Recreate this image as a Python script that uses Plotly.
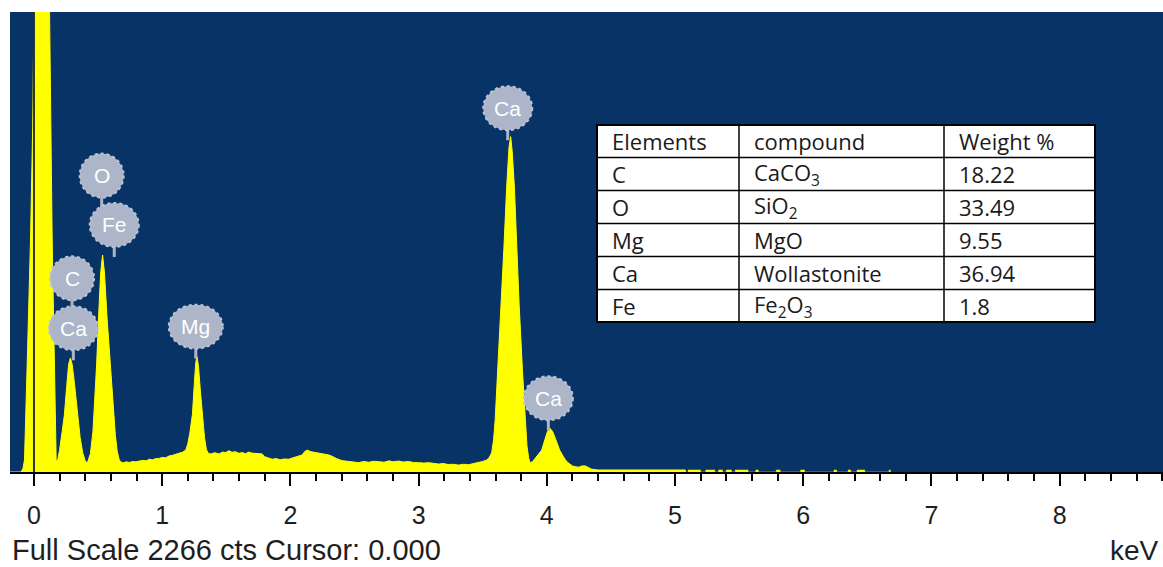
import plotly.graph_objects as go

# ---------------- data ----------------
energy_kev = [
    -0.19, -0.10, -0.085, -0.074, -0.05, -0.027, -0.01, 0.012, 0.03, 0.066, 0.10, 0.121, 0.142, 0.158, 0.173, 0.183,
    0.20, 0.22, 0.237, 0.255, 0.27, 0.284, 0.298, 0.315, 0.341, 0.36, 0.38, 0.40, 0.416,
    0.44, 0.46, 0.475, 0.489, 0.505, 0.52, 0.535, 0.55, 0.57, 0.595, 0.615, 0.635, 0.65, 0.665, 0.68,
    0.70, 0.72, 0.745, 0.77, 0.795, 0.822, 0.85, 0.875, 0.899, 0.925, 0.95, 0.977, 1.0, 1.027, 1.054,
    1.08, 1.105, 1.132, 1.16, 1.184,
    1.20, 1.215, 1.236, 1.25, 1.262, 1.272, 1.283, 1.298, 1.314, 1.33, 1.345, 1.36, 1.379,
    1.41, 1.444, 1.47, 1.495, 1.521, 1.545, 1.57, 1.599, 1.625, 1.65, 1.675, 1.70, 1.716, 1.745, 1.78,
    1.80, 1.83, 1.858, 1.89, 1.92, 1.95, 1.988, 2.02, 2.05, 2.092, 2.11, 2.131, 2.16, 2.196, 2.23, 2.26,
    2.30, 2.33, 2.36, 2.403, 2.44, 2.48, 2.533, 2.57, 2.61, 2.65, 2.689, 2.73, 2.77, 2.80, 2.844, 2.88,
    2.92, 2.96, 3.0, 3.04, 3.08, 3.12, 3.156, 3.19, 3.23, 3.27, 3.311, 3.35, 3.39, 3.43, 3.467, 3.50, 3.53,
    3.55, 3.57, 3.585, 3.597, 3.62, 3.644, 3.665, 3.687, 3.705, 3.718, 3.73, 3.747, 3.765, 3.784, 3.81,
    3.83, 3.845, 3.858, 3.869,
    3.89, 3.91, 3.935, 3.96, 3.985, 4.005, 4.025, 4.045, 4.07, 4.10, 4.13, 4.15, 4.17, 4.20, 4.22, 4.25,
    4.275, 4.30, 4.325, 4.35, 4.40, 4.60, 4.80, 5.00, 5.08, 5.085,
]
counts = [
    0, 0, 20, 59, 600, 1143, 1700, 2300, 4000, 6000, 4000, 2300, 1143, 500, 60, 52,
    110, 200, 281, 420, 530, 562, 530, 440, 281, 170, 95, 55, 44,
    90, 200, 350, 534, 780, 980, 1069, 980, 760, 534, 330, 180, 100, 60, 48,
    46, 50, 47, 52, 50, 54, 57, 55, 63, 60, 66, 67, 72, 70, 79,
    82, 86, 92, 98, 108,
    140, 190, 284, 430, 540, 568, 520, 400, 284, 170, 110, 92, 89,
    95, 89, 98, 96, 105, 97, 100, 92, 96, 90, 98, 93, 92, 90, 89,
    75, 68, 63, 66, 60, 64, 63, 70, 76, 84, 100, 108, 100, 95, 92, 88,
    84, 76, 66, 56, 52, 50, 46, 52, 48, 53, 51, 48, 55, 50, 54, 49,
    52, 47, 46, 44, 46, 41, 39, 42, 37, 38, 34, 38, 36, 42, 46, 52, 59,
    70, 95, 160, 256, 520, 826, 1100, 1405, 1600, 1652, 1580, 1405, 1100, 826, 500,
    256, 130, 70, 45,
    52, 68, 85, 108, 160, 200, 215, 200, 160, 108, 75, 55, 44, 30, 26, 24,
    30, 30, 22, 14, 10, 10, 10, 10, 10, 0,
]

# sparse counts in the high-energy tail (step segments)
tail_kev = [5.10, 5.20, 5.24, 5.31, 5.34, 5.37, 5.40, 5.44, 5.47, 5.57, 5.63, 5.65,
            5.79, 5.82, 5.98, 6.01, 6.24, 6.26, 6.35, 6.37, 6.42, 6.48, 6.67, 6.68]
tail_counts = [10, 0, 10, 0, 10, 0, 10, 0, 10, 0, 10, 0,
               10, 0, 10, 0, 10, 0, 10, 0, 10, 0, 10, 0]

# element label badges
badge_text = ["O", "Fe", "C", "Ca", "Mg", "Ca", "Ca"]
badge_kev = [0.528, 0.626, 0.297, 0.307, 1.262, 3.695, 4.012]
badge_counts = [1460, 1217, 954, 708, 716, 1792, 363]

full_scale_cts = 2266
x_ticks = [0, 1, 2, 3, 4, 5, 6, 7, 8]

table_header = ["Elements", "compound", "Weight %"]
table_elements = ["C", "O", "Mg", "Ca", "Fe"]
table_compounds = ["CaCO<sub>3</sub>", "SiO<sub>2</sub>", "MgO", "Wollastonite", "Fe<sub>2</sub>O<sub>3</sub>"]
table_weights = ["18.22", "33.49", "9.55", "36.94", "1.8"]

# ---------------- figure ----------------
W, H = 1163, 567
ML, MR, MT, MB = 10, 0, 12, 95
PW, PH = W - ML - MR, H - MT - MB
NAVY = "rgb(8,51,102)"
YELLOW = "#ffff00"
BADGE = "rgb(172,182,200)"


def px_x(px):
    return (px - ML) / PW


def px_y(py):
    return (H - MB - py) / PH


fig = go.Figure()
fig.add_trace(go.Scatter(x=energy_kev, y=counts, mode="lines",
                         line=dict(color=YELLOW, width=1), fill="tozeroy",
                         fillcolor=YELLOW, hoverinfo="skip"))
fig.add_trace(go.Scatter(x=tail_kev, y=tail_counts, mode="lines", line_shape="hv",
                         line=dict(color=YELLOW, width=0.5), fill="tozeroy",
                         fillcolor=YELLOW, hoverinfo="skip"))

shapes = []
annotations = []

# cursor line at 0 keV
shapes.append(dict(type="line", xref="x", yref="paper", x0=0, x1=0, y0=0, y1=1,
                   line=dict(color="rgb(50,50,40)", width=2), layer="above"))

# badges
for t, e, c in zip(badge_text, badge_kev, badge_counts):
    w = 44 if len(t) == 1 else (54 if t == "Mg" else 49)
    h = 44
    shapes.append(dict(type="line", xref="x", yref="y", xsizemode="pixel", ysizemode="pixel",
                       xanchor=e, yanchor=c, x0=0, x1=0, y0=-h / 2 - 10, y1=-h / 2 + 2,
                       line=dict(color=BADGE, width=3), layer="above"))
    shapes.append(dict(type="circle", xref="x", yref="y", xsizemode="pixel", ysizemode="pixel",
                       xanchor=e, yanchor=c, x0=-w / 2, x1=w / 2, y0=-h / 2, y1=h / 2,
                       fillcolor=BADGE, line=dict(color="rgb(188,196,212)", width=2, dash="dot"),
                       layer="above"))
    annotations.append(dict(x=e, y=c, xref="x", yref="y", text=t, showarrow=False,
                            font=dict(family="Liberation Sans, Arial", size=21, color="white"),
                            xanchor="center", yanchor="middle"))

# table
col_px = [597, 739, 944, 1095]
row_px = [125, 157.5, 190.5, 223.5, 256.5, 289.5, 322]
shapes.append(dict(type="rect", xref="paper", yref="paper",
                   x0=px_x(col_px[0]), x1=px_x(col_px[-1]), y0=px_y(row_px[-1]), y1=px_y(row_px[0]),
                   fillcolor="white", line=dict(color="black", width=2), layer="above"))
for cx in col_px[1:-1]:
    shapes.append(dict(type="line", xref="paper", yref="paper", x0=px_x(cx), x1=px_x(cx),
                       y0=px_y(row_px[-1]), y1=px_y(row_px[0]),
                       line=dict(color="black", width=1.5), layer="above"))
for ry in row_px[1:-1]:
    shapes.append(dict(type="line", xref="paper", yref="paper", x0=px_x(col_px[0]), x1=px_x(col_px[-1]),
                       y0=px_y(ry), y1=px_y(ry),
                       line=dict(color="black", width=1.5), layer="above"))

rows = [table_header] + [list(r) for r in zip(table_elements, table_compounds, table_weights)]
for ri, row in enumerate(rows):
    yc = (row_px[ri] + row_px[ri + 1]) / 2
    for ci, txt in enumerate(row):
        annotations.append(dict(x=px_x(col_px[ci] + 13), y=px_y(yc), xref="paper", yref="paper",
                                text=txt, showarrow=False, xanchor="left", yanchor="middle",
                                font=dict(family="Open Sans", size=22, color="#1a1a1a")))

# bottom texts
annotations.append(dict(x=0, y=px_y(550), xref="paper", yref="paper",
                        text=f"Full Scale {full_scale_cts} cts Cursor: 0.000", showarrow=False,
                        xanchor="left", yanchor="middle",
                        font=dict(family="Liberation Sans, Arial", size=29, color="#1e1e1e")))
annotations.append(dict(x=px_x(1161), y=px_y(550), xref="paper", yref="paper",
                        text="keV", showarrow=False, xanchor="right", yanchor="middle",
                        font=dict(family="Liberation Sans, Arial", size=28, color="#1e1e1e")))

fig.update_layout(
    width=W, height=H,
    margin=dict(l=ML, r=MR, t=MT, b=MB, pad=0),
    paper_bgcolor="white", plot_bgcolor=NAVY,
    showlegend=False,
    shapes=shapes, annotations=annotations,
    xaxis=dict(range=[-0.187, 8.806], tickvals=x_ticks, ticktext=[str(v) for v in x_ticks],
               ticks="outside", ticklen=12, tickwidth=2, tickcolor="black",
               minor=dict(dtick=0.2, tick0=0, ticks="outside", ticklen=7, tickwidth=2, tickcolor="black"),
               showline=True, linecolor="black", linewidth=2, showgrid=False, zeroline=False,
               ticklabelstandoff=8,
               tickfont=dict(family="Liberation Sans, Arial", size=25, color="#1e1e1e")),
    yaxis=dict(range=[0, full_scale_cts], showticklabels=False, showgrid=False, zeroline=False,
               ticks=""),
)

fig.write_html("out.html", config={"displayModeBar": False})
